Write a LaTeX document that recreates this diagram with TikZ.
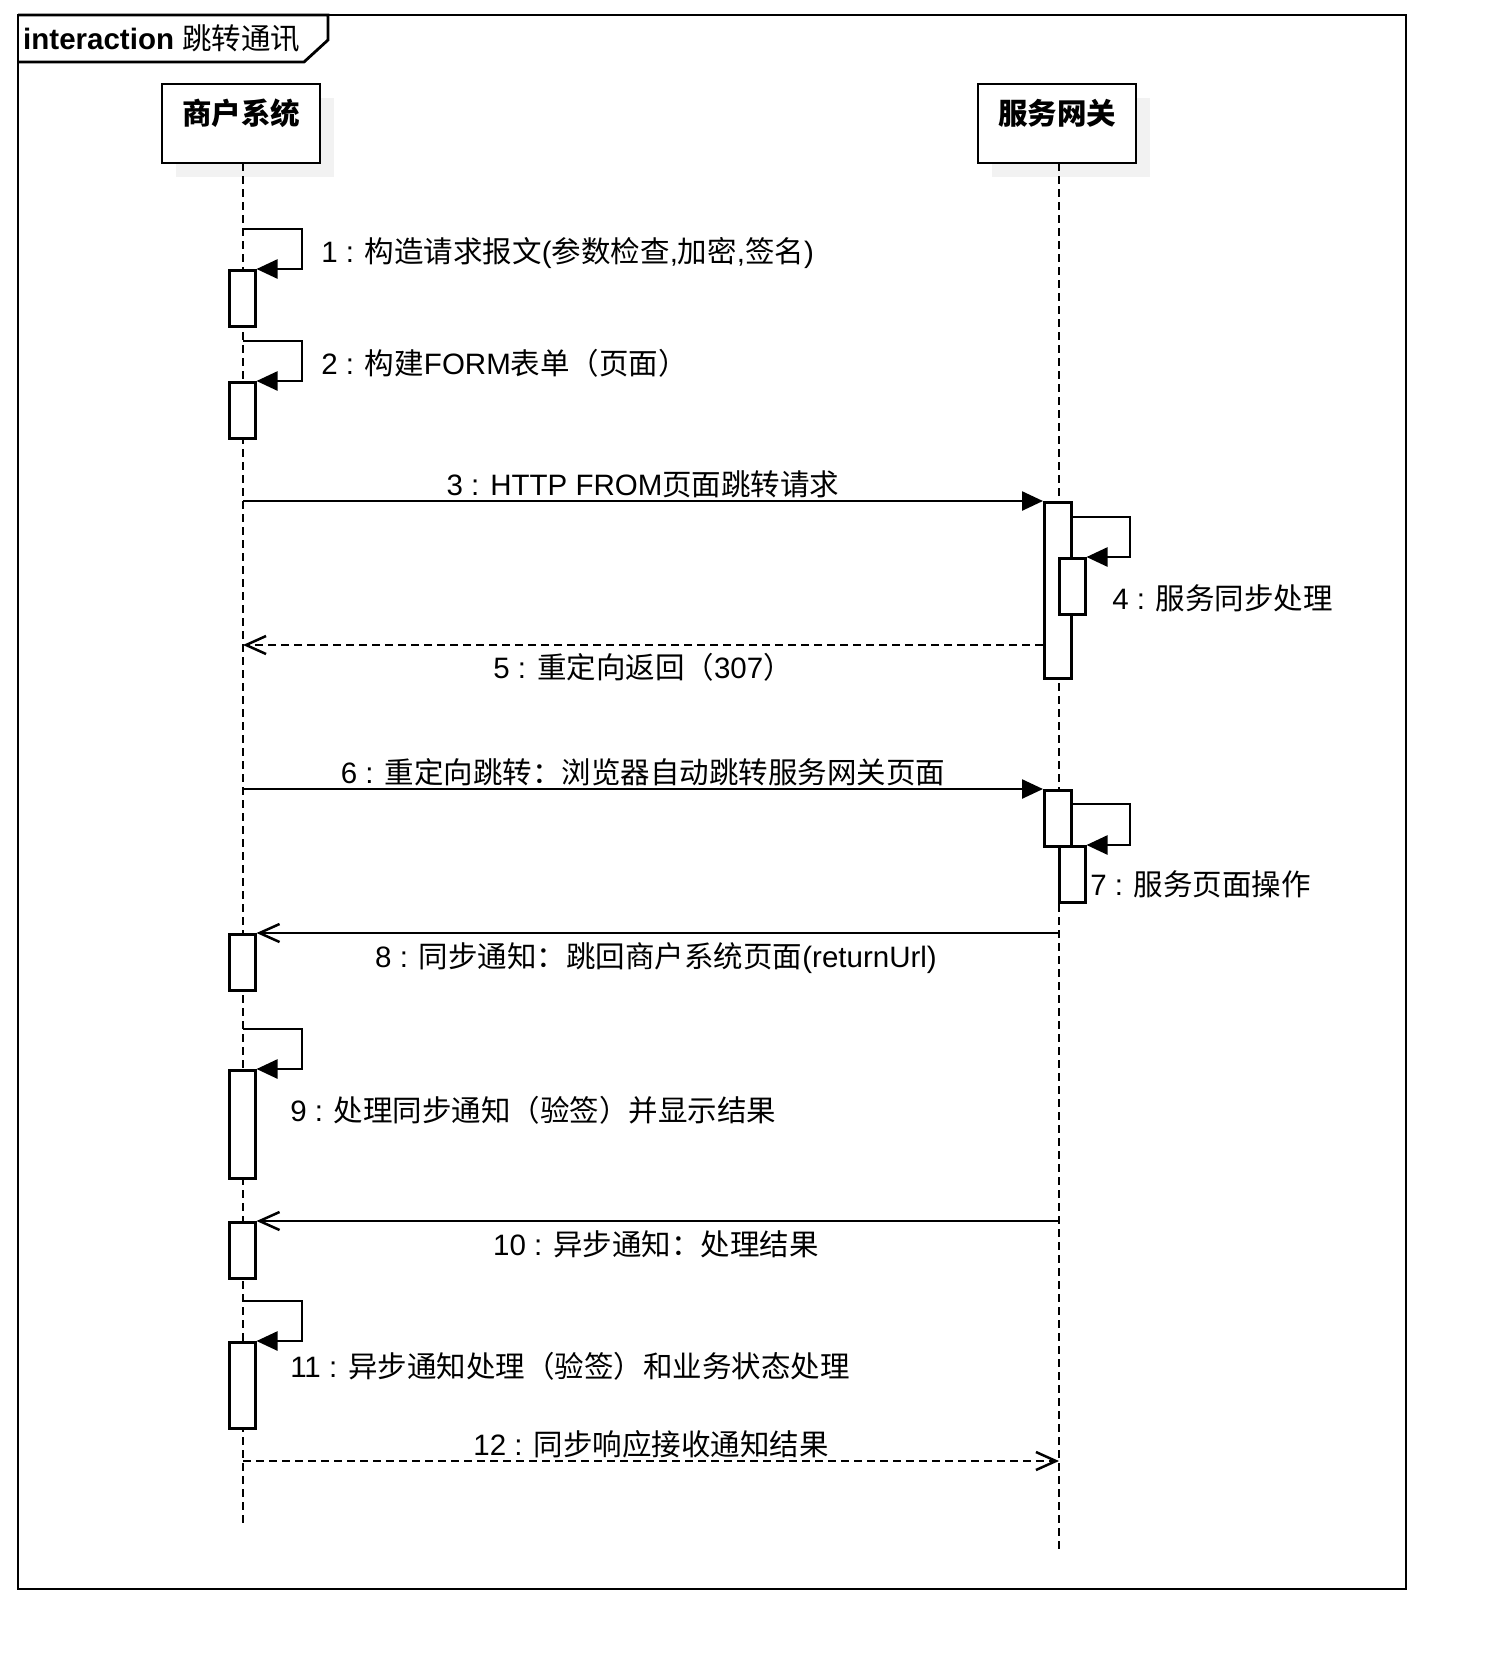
\documentclass[tikz,border=0pt]{standalone}
\usepackage{fontspec}
\setmainfont{Liberation Sans}
\newfontfamily\cjk{Noto Sans CJK SC}
\usetikzlibrary{arrows.meta,shadows}
\newcommand\zh[1]{{\cjk #1}}
\definecolor{shadowgray}{HTML}{F2F2F2}
\begin{document}
\begin{tikzpicture}[x=1pt,y=-1pt,
  line width=2.5pt,
  every node/.style={inner sep=0pt,font=\fontsize{29.5}{34}\selectfont},
  lifeline/.style={line width=2.4pt,dash pattern=on 8pt off 5pt},
  actorbox/.style={draw,fill=white,line width=2.5pt,minimum width=158pt,
    text height=40pt,text depth=39pt,font=\fontsize{29.5}{34}\selectfont\bfseries,
    drop shadow={shadow xshift=14pt,shadow yshift=-14pt,fill=shadowgray,opacity=1}},
  actbox/.style={draw,fill=white,line width=2.5pt,minimum width=26pt,anchor=north west},
  synccall/.style={-{Triangle[length=21pt,width=19pt]}},
  reply/.style={-{Straight Barb[length=20pt,width=18pt]}},
  replydash/.style={reply,dash pattern=on 8pt off 5pt},
  lbl/.style={anchor=base},
  lblw/.style={anchor=base west},
]
\useasboundingbox (0,0) rectangle (1488,1674);

% frame
\draw[line width=2.8pt] (18,15) rectangle (1406,1589);
\draw[line width=2.8pt] (18,15) -- (328,15) -- (328,40) -- (304,62) -- (18,62);
\node[anchor=base west] (title) at (22,49) {\textbf{interaction} \zh{跳转通讯}};

% actors
\node[actorbox] (mer) at (241,123.5) {\zh{\bfseries 商户系统}};
\node[actorbox] (gw) at (1057,123.5) {\zh{\bfseries 服务网关}};

% lifelines
\coordinate (l1top) at (243,163);
\coordinate (l1bot) at (243,1525);
\coordinate (l2top) at (1059,163);
\coordinate (l2bot) at (1059,1550);
\draw[lifeline] (l1top) -- (l1bot);
\draw[lifeline] (l2top) -- (l2bot);

% activations
\node[actbox,minimum height=56pt] (a1) at (228,269) {};
\node[actbox,minimum height=56pt] (a2) at (228,381) {};
\node[actbox,minimum width=27pt,minimum height=176pt] (g1) at (1043,501) {};
\node[actbox,minimum height=56pt] (g2) at (1058,557) {};
\node[actbox,minimum width=27pt,minimum height=56pt] (g3) at (1043,789) {};
\node[actbox,minimum height=56pt] (g4) at (1058,845) {};
\node[actbox,minimum height=56pt] (a3) at (228,933) {};
\node[actbox,minimum height=108pt] (a4) at (228,1069) {};
\node[actbox,minimum height=56pt] (a5) at (228,1221) {};
\node[actbox,minimum height=86pt] (a6) at (228,1341) {};

% message endpoints
\coordinate (m1s) at (243,229);
\coordinate (m2s) at (243,341);
\coordinate (m3s) at (243,501);
\coordinate (m4s) at (1070,517);
\coordinate (m5e) at (243,645);
\coordinate (m5s) at (1043,645);
\coordinate (m6s) at (243,789);
\coordinate (m7s) at (1070,804);
\coordinate (m8s) at (1059,933);
\coordinate (m9s) at (243,1029);
\coordinate (m10s) at (1059,1221);
\coordinate (m11s) at (243,1301);
\coordinate (m12s) at (243,1461);
\coordinate (m12e) at (1059,1461);

% messages
\draw[synccall] (m1s) -- ++(59,0) |- (a1.north east);
\draw[synccall] (m2s) -- ++(59,0) |- (a2.north east);
\draw[synccall] (m3s) -- (g1.north west);
\draw[synccall] (m4s) -- ++(60,0) |- (g2.north east);
\draw[replydash] (m5s) -- (m5e);
\draw[synccall] (m6s) -- (g3.north west);
\draw[synccall] (m7s) -- ++(60,0) |- (g4.north east);
\draw[reply] (m8s) -- (a3.north east);
\draw[synccall] (m9s) -- ++(59,0) |- (a4.north east);
\draw[reply] (m10s) -- (a5.north east);
\draw[synccall] (m11s) -- ++(59,0) |- (a6.north east);
\draw[replydash] (m12s) -- (m12e);

% labels
\node[lblw] (t1) at (320,262) {1 : \zh{构造请求报文}(\zh{参数检查},\zh{加密},\zh{签名})};
\node[lblw] (t2) at (320,374) {2 : \zh{构建}FORM\zh{表单（页面）}};
\node[lbl] (t3) at (643,495) {3 : HTTP FROM\zh{页面跳转请求}};
\node[lblw] (t4) at (1111,609) {4 : \zh{服务同步处理}};
\node[lbl] (t5) at (643,678) {5 : \zh{重定向返回（}307\zh{）}};
\node[lbl] (t6) at (643,783) {6 : \zh{重定向跳转：浏览器自动跳转服务网关页面}};
\node[lblw] (t7) at (1089,895) {7 : \zh{服务页面操作}};
\node[lbl] (t8) at (656,967) {8 : \zh{同步通知：跳回商户系统页面}(returnUrl)};
\node[lblw] (t9) at (289,1121) {9 : \zh{处理同步通知（验签）并显示结果}};
\node[lbl] (t10) at (656,1255) {10 : \zh{异步通知：处理结果}};
\node[lblw] (t11) at (289,1377) {11 : \zh{异步通知处理（验签）和业务状态处理}};
\node[lbl] (t12) at (651,1455) {12 : \zh{同步响应接收通知结果}};
\end{tikzpicture}
\end{document}
